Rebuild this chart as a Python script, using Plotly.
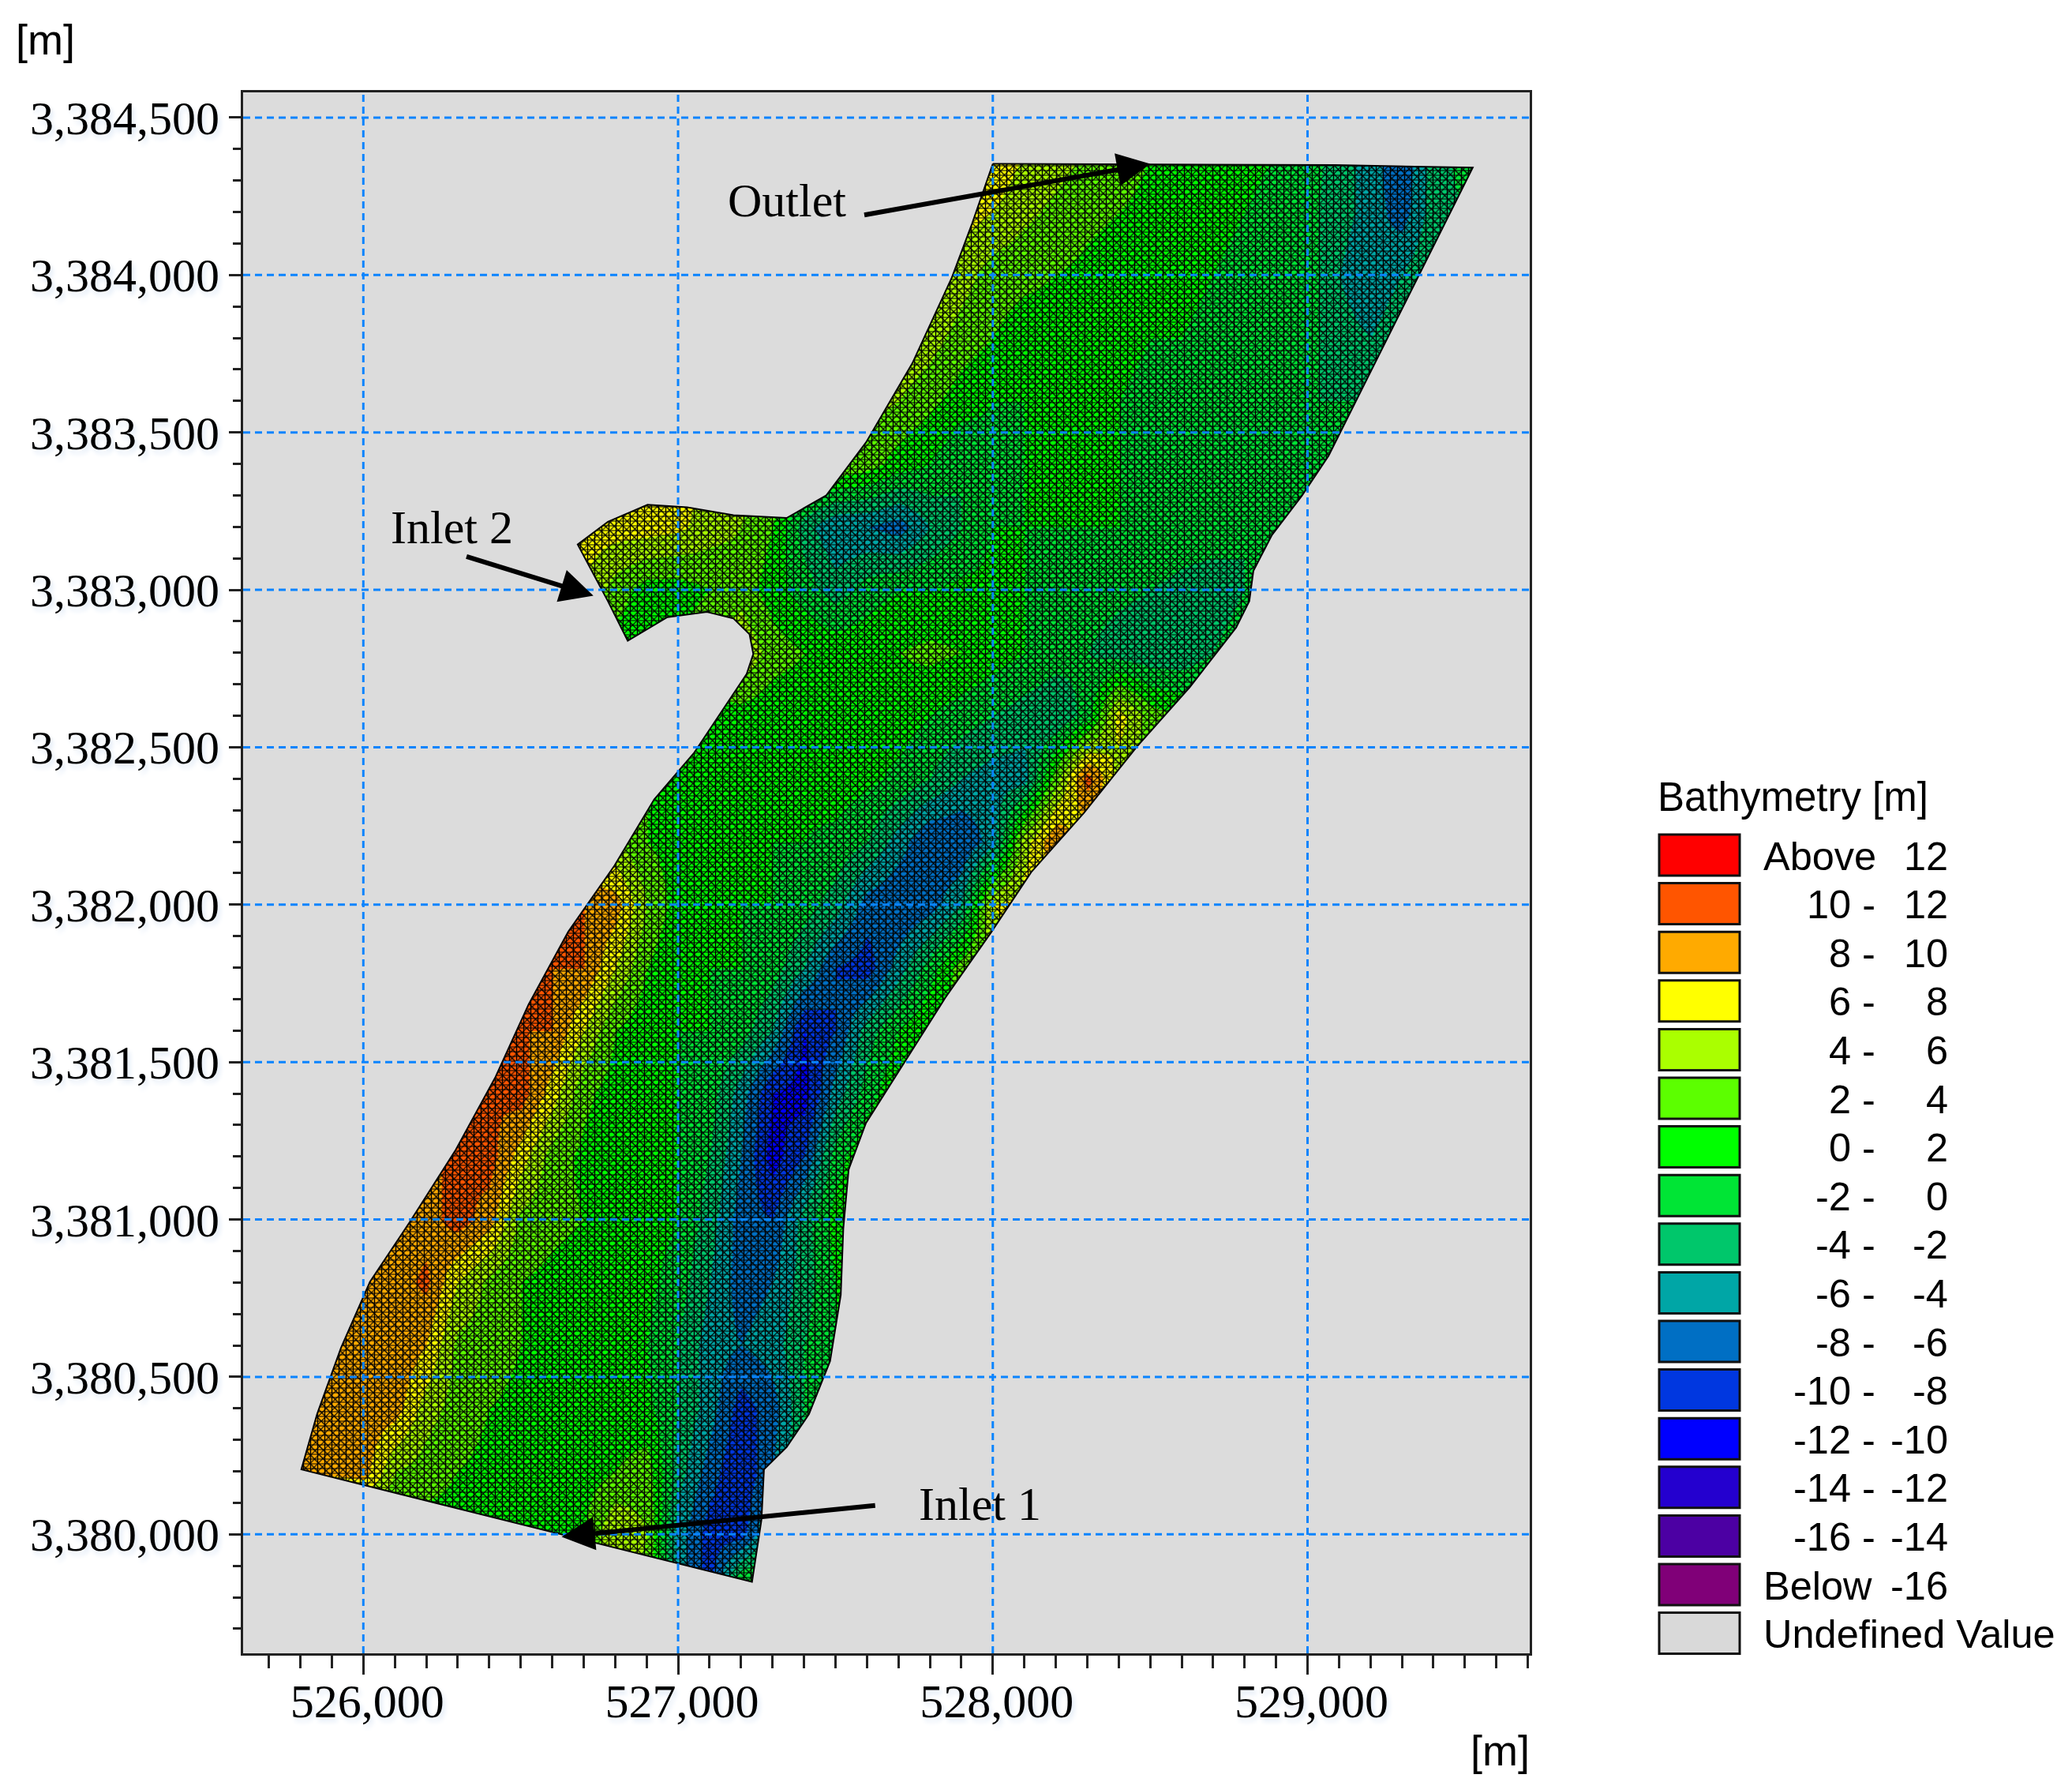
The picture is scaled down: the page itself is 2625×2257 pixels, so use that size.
import plotly.graph_objects as go

# === Canvas / plot box (px) ===
fig_w, fig_h = 2625, 2257
box_l, box_r, box_t, box_b = 308, 1938, 117, 2094
x_range = [525618, 529706]
y_range = [3379622, 3384580]

# === Ticks ===
x_ticks = [526000, 527000, 528000, 529000]
y_ticks = [3380000, 3380500, 3381000, 3381500, 3382000, 3382500, 3383000, 3383500, 3384000, 3384500]

# === Domain outline (m) ===
outline_x = [528000, 529088, 529525, 529361, 529214, 529067, 528983, 528887, 528828, 528815,
             528773, 528626, 528458, 528290, 528122, 527996, 527849, 527702, 527597, 527542,
             527525, 527517, 527483, 527416, 527345, 527273, 527265, 527235, 525803, 525853,
             525929, 526021, 526147, 526294, 526420, 526525, 526651, 526798, 526924, 527050,
             527218, 527239, 527227, 527176, 527092, 526966, 526840, 526777, 526681, 526777, 526903,
             527029, 527176, 527345, 527471, 527597, 527744, 527870, 527933, 528000]
outline_y = [3384353, 3384349, 3384341, 3384013, 3383719, 3383426, 3383300, 3383174, 3383060, 3382964,
             3382880, 3382691, 3382502, 3382292, 3382103, 3381914, 3381704, 3381473, 3381306, 3381159,
             3380970, 3380760, 3380550, 3380382, 3380277, 3380206, 3380046, 3379849, 3380206, 3380382,
             3380592, 3380802, 3380991, 3381222, 3381453, 3381683, 3381914, 3382124, 3382334, 3382481,
             3382733, 3382796, 3382859, 3382909, 3382930, 3382913, 3382838, 3382964, 3383144, 3383216, 3383270,
             3383262, 3383237, 3383228, 3383300, 3383468, 3383719, 3383992, 3384160, 3384353]

# === Bathymetry read by eye at 100 m x 200 m nodes (top row first) ===
x_nodes = list(range(525800, 529600, 100))
y_nodes = list(range(3384400, 3379600, -200))
depth_rows = [
    [8]*22 + [8, 6, 5, 4, 3, 2, 1.5, 1, .5, 0, -1, -3, -5, -8, -3, -1],
    [7]*21 + [7, 6, 4.5, 3.5, 2.5, 2, 1.5, 1, .5, 0, -.5, -1.5, -3, -5, -7, -3, -2],
    [7]*20 + [7, 5, 3, 2.5, 2, 1.5, 1, 1, .5, 0, -.5, -.5, -1, -4, -6, -4, -2, -2],
    [6]*19 + [6, 5, 3, 2, 1, 1, .5, .5, 0, 0, -.5, -1, -1, -1.5, -3, -4, -2, -2, -2],
    [5]*18 + [5, 4, 2.5, 1, 0, 0, 0, 0, 0, -.5, -.5, -.5, -1, -1, -2, -2, -2, -2, -2, -2],
    [6]*9 + [7, 7, 7, 7, 6, 5, 4, 4, 4, 3, 1, 0, -2, -1, 0, 0, 0, 0, -.5, -1, -1, -1.5, -2, -2, -2, -2, -2, -2, -2],
    [6]*9 + [7, 7, 7, 6.5, 5, 4, 2, -3, -6, -6, -7, -4, -2, 0, 0, 0, 0, 0, -.5, -1, -1, -2, -2, -2, -2, -2, -2, -2, -2],
    [6]*9 + [6, 3, 1, 1, 2, 3, 1, -1, -3, -1, 0, 0, .5, .5, 0, -1, -1, -1.5, -2, -2.5, -3, -2, -1, -1, -1, -1, -1, -1, -1],
    [1]*10 + [1, 1, 2, 4, 6, 3, 2, 1.5, 1.5, 2, 2.5, 2, 1, 0, -1, -2, -3, -3.5, -3.5, -2, -1, -1, -1, -1, -1, -1, -1, -1],
    [2]*11 + [2, 1.5, 1, 1, .5, .5, 1, 1, 1, 0, -1, -2, -3, -4, -1, 7, 3, 2, 2, 2, 2, 2, 2, 2, 2, 2],
    [3]*10 + [3, 2, 1, .5, 0, 0, .5, 1, .5, -.5, -2, -4, -5, -5, 3, 11, 5, 2, 2, 2, 2, 2, 2, 2, 2, 2, 2, 2],
    [5]*9 + [5, 4, 2, 1, 0, 0, 0, 0, -.5, -2, -5, -8, -8, -5, 5, 10, 6, 6, 6, 6, 6, 6, 6, 6, 6, 6, 6, 6, 6],
    [10]*8 + [10, 10, 9, 4, 1, 0, 0, 0, -1, -3, -7, -8, -7, -4, 6, 7, 7, 7, 7, 7, 7, 7, 7, 7, 7, 7, 7, 7, 7, 7],
    [10]*8 + [10, 10, 6, 2, 0, 0, 0, -1, -4, -8, -9, -5, -1, 3, 5, 5, 5, 5, 5, 5, 5, 5, 5, 5, 5, 5, 5, 5, 5, 5],
    [10]*7 + [10, 10, 6, 2, .5, 0, 0, -1, -4, -10, -8, -3, 0, 2, 3, 3, 3, 3, 3, 3, 3, 3, 3, 3, 3, 3, 3, 3, 3, 3],
    [10]*6 + [10, 11, 7, 2.5, 1, .5, 0, -1, -5, -10, -11, -5, -1, 2] + [2]*18,
    [10]*5 + [10, 11, 7, 3, 1.5, 1, 0, 0, -2, -6, -11, -8, -1, 2] + [2]*19,
    [9]*4 + [9, 11, 9, 3.5, 2.5, 2, 1.5, 1, 0, -3, -7, -8, -3, 1] + [2]*20,
    [9]*3 + [9, 10.5, 6, 3.5, 2, 1.5, 1, .5, .5, -1, -4, -7, -6, -3, 0] + [0]*20,
    [9]*2 + [9, 10, 8, 3.5, 3, 2, 1.5, 1, .5, 0, -2, -5, -6, -5, -2, 0] + [0]*20,
    [9, 9, 9.5, 9, 5, 3, 2, 1.5, 1, 1, 1, .5, -2, -5, -9, -7, -2, 0] + [0]*20,
    [8.5, 8.5, 9, 4, 3, 2, 1.5, 1, 1, 1, 2, 3, -3, -7, -10, -6, -2] + [-2]*21,
    [1]*7 + [1, 1, 2, 6, 4, -5, -9, -9, -3, -3] + [0]*21,
    [1]*10 + [5, 3, -5, -9, 3, 3] + [3]*22,
]

# === Legend classes, top to bottom ===
class_low = ["Above", "10 -", "8 -", "6 -", "4 -", "2 -", "0 -", "-2 -", "-4 -", "-6 -", "-8 -",
             "-10 -", "-12 -", "-14 -", "-16 -", "Below", "Undefined Value"]
class_high = ["12", "12", "10", "8", "6", "4", "2", "0", "-2", "-4", "-6", "-8", "-10", "-12", "-14", "-16", ""]
class_colors = ["#ff0000", "#ff5500", "#ffaa00", "#ffff00", "#aaff00", "#5cff00", "#00ff00", "#00e535",
                "#00c76b", "#00a6a6", "#006fc4", "#0037e0", "#0000ff", "#2400cf", "#4c00a3", "#800078",
                "#d9d9d9"]
left_set = ("Above", "Below", "Undefined Value")

bg_gray = "#dcdcdc"
grid_blue = "#0a84ff"
serif = "Liberation Serif"
sans = "Liberation Sans"
label_shadow = "3px 5px 6px #dfe9f6"

# === Helpers: px on the canvas -> paper coords ===
def px_x(p):
    return (p - box_l) / (box_r - box_l)

def px_y(p):
    return 1 - (p - box_t) / (box_b - box_t)

# stepped colorscale, 16 classes of 2 m from -18 to 14
zmin, zmax = -18, 14
bands = class_colors[:16][::-1]
colorscale = []
for i, col in enumerate(bands):
    colorscale.append([i / 16, col])
    colorscale.append([(i + 1) / 16, col])

fig = go.Figure()

# Bathymetry
fig.add_trace(go.Heatmap(
    x=x_nodes, y=y_nodes[::-1], z=depth_rows[::-1],
    zmin=zmin, zmax=zmax, colorscale=colorscale, zsmooth='best',
    showscale=False, hoverinfo='skip'
))

# Gray mask outside the domain (rectangle with the outline as a hole, opposite winding)
mask_x = [x_range[0], x_range[1], x_range[1], x_range[0], x_range[0]] + outline_x + [x_range[0]]
mask_y = [y_range[0], y_range[0], y_range[1], y_range[1], y_range[0]] + outline_y + [y_range[0]]
fig.add_trace(go.Scatter(
    x=mask_x, y=mask_y, mode='none', fill='toself', fillcolor=bg_gray,
    showlegend=False, hoverinfo='skip'
))

# Mesh edges: hatch layers over the domain
for shape, size, solidity in [('/', 7, 0.17), ('\\', 8, 0.17), ('-', 6, 0.17), ('|', 9, 0.15)]:
    fig.add_trace(go.Scatter(
        x=outline_x, y=outline_y, mode='none', fill='toself', fillcolor='rgba(0,0,0,0)',
        fillpattern=dict(shape=shape, size=size, solidity=solidity, fgcolor='black',
                         bgcolor='rgba(0,0,0,0)', fgopacity=1),
        showlegend=False, hoverinfo='skip'
    ))

# Domain outline
fig.add_trace(go.Scatter(
    x=outline_x, y=outline_y, mode='lines', line=dict(color='black', width=2),
    showlegend=False, hoverinfo='skip'
))

# Gridlines sit above the mesh
grid_x, grid_y = [], []
for t in x_ticks:
    grid_x += [t, t, None]
    grid_y += [y_range[0], y_range[1], None]
for t in y_ticks:
    grid_x += [x_range[0], x_range[1], None]
    grid_y += [t, t, None]
fig.add_trace(go.Scatter(
    x=grid_x, y=grid_y, mode='lines',
    line=dict(color=grid_blue, width=3, dash='9px,6px'),
    showlegend=False, hoverinfo='skip'
))

# Legend swatches and labels
legend_top, legend_step = 1083, 61.6
shapes, notes = [], []
for i, col in enumerate(class_colors):
    cy = legend_top + i * legend_step
    shapes.append(dict(type='rect', xref='paper', yref='paper',
                       x0=px_x(2102), x1=px_x(2204), y0=px_y(cy - 26), y1=px_y(cy + 26),
                       fillcolor=col, line=dict(color='#111111', width=3)))
    if class_low[i] in left_set:
        notes.append(dict(x=px_x(2232), y=px_y(cy + 1), text=class_low[i], xanchor='left'))
    else:
        notes.append(dict(x=px_x(2378), y=px_y(cy + 1), text=class_low[i], xanchor='right'))
    if class_high[i]:
        notes.append(dict(x=px_x(2470), y=px_y(cy + 1), text=class_high[i], xanchor='right'))
annotations = [dict(n, xref='paper', yref='paper', yanchor='middle', showarrow=False,
                    font=dict(family=sans, size=50.5, color='black')) for n in notes]

annotations.append(dict(x=px_x(2098), y=px_y(1009), xref='paper', yref='paper', text="Bathymetry [m]",
                        xanchor='left', yanchor='middle', showarrow=False,
                        font=dict(family=sans, size=51, color='black')))
annotations.append(dict(x=px_x(18), y=px_y(50), xref='paper', yref='paper', text="[m]",
                        xanchor='left', yanchor='middle', showarrow=False,
                        font=dict(family=sans, size=54, color='black')))
annotations.append(dict(x=px_x(1940), y=px_y(2217), xref='paper', yref='paper', text="[m]",
                        xanchor='right', yanchor='middle', showarrow=False,
                        font=dict(family=sans, size=54, color='black')))

# Site labels
for label, lx, ly in [("Outlet", 527345, 3384236), ("Inlet 2", 526281, 3383199), ("Inlet 1", 527958, 3380097)]:
    annotations.append(dict(x=lx, y=ly, xref='x', yref='y', text=label, showarrow=False,
                            font=dict(family=serif, size=60, color='black')))

# Arrows: head x, y then tail x, y
for hx, hy, tx, ty in [(528500, 3384353, 527588, 3384190),
                       (526731, 3382981, 526324, 3383107),
                       (526630, 3379992, 527630, 3380092)]:
    annotations.append(dict(x=hx, y=hy, ax=tx, ay=ty, xref='x', yref='y', axref='x', ayref='y', text="",
                            showarrow=True, arrowhead=2, arrowsize=1.4, arrowwidth=6, arrowcolor='black'))

# Layout
fig.update_layout(
    width=fig_w, height=fig_h, autosize=False,
    margin=dict(l=box_l, r=fig_w - box_r, t=box_t, b=fig_h - box_b, pad=0),
    paper_bgcolor='white', plot_bgcolor=bg_gray, showlegend=False,
    shapes=shapes, annotations=annotations,
    xaxis=dict(range=x_range, tickmode='array', tickvals=x_ticks, tickformat=',d',
               ticks='outside', ticklen=24, tickwidth=3, tickcolor='#222222',
               minor=dict(dtick=100, tick0=526000, ticks='outside', ticklen=16, tickwidth=3, tickcolor='#222222'),
               showgrid=False, zeroline=False, showline=True, mirror=True, linewidth=3, linecolor='#222222',
               ticklabelshift=5, ticklabelstandoff=-18,
               tickfont=dict(family=serif, size=60, color='black', shadow=label_shadow)),
    yaxis=dict(range=y_range, tickmode='array', tickvals=y_ticks, tickformat=',d',
               ticks='outside', ticklen=15, tickwidth=3, tickcolor='#222222',
               minor=dict(dtick=100, tick0=3380000, ticks='outside', ticklen=10, tickwidth=3, tickcolor='#222222'),
               showgrid=False, zeroline=False, showline=True, mirror=True, linewidth=3, linecolor='#222222',
               tickfont=dict(family=serif, size=60, color='black', shadow=label_shadow)),
)

fig.write_html("out.html", config=dict(displayModeBar=False), post_script="document.body.style.margin='0';")
